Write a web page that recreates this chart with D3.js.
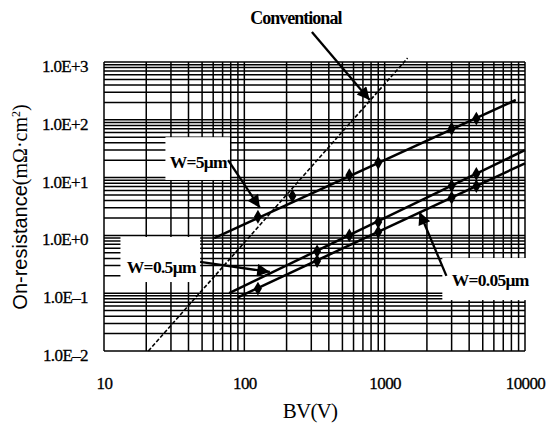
<!DOCTYPE html>
<html>
<head>
<meta charset="utf-8">
<script src="https://cdn.jsdelivr.net/npm/d3@7"></script>
<style>
  body { margin: 0; background: #fff; }
  text { font-family: "Liberation Serif", "Times New Roman", serif; fill: #000; }
</style>
</head>
<body>
<div id="chart"></div>
<script>
// axis ticks
const bvTicks = [10, 100, 1000, 10000];
const bvTickLabels = ["10", "100", "1000", "10000"];
const ronTicks = [0.01, 0.1, 1, 10, 100, 1000];
const ronTickLabels = ["1.0E\u20132", "1.0E\u20131", "1.0E+0", "1.0E+1", "1.0E+2", "1.0E+3"];

// series, [BV (V), Ron (mOhm cm2)]
const conventionalLine = [[20.7, 0.01], [1456, 1170]];
const w5Line = [[61, 0.9], [8600, 220]];
const w5Points = [[125, 2.1], [220, 4.8], [560, 11], [900, 18], [3000, 70], [4500, 105]];
const w05Line = [[78, 0.1], [10000, 30]];
const w05Points = [[330, 0.53], [560, 1.0], [900, 1.7], [3000, 7.2], [4500, 11.6]];
const w005Line = [[90, 0.085], [10000, 17.7]];
const w005Points = [[125, 0.12], [330, 0.36], [900, 1.14], [3000, 4.5], [4500, 7.1]];

const width = 550, height = 430;
const margin = {top: 62, right: 25, bottom: 79, left: 104};

let svg = d3.select('#chart').append('svg')
    .attr('width', width)
    .attr('height', height);

let x = d3.scaleLog().domain([10, 10000]).range([margin.left, width - margin.right]);
let y = d3.scaleLog().domain([0.01, 1000]).range([height - margin.bottom, margin.top]);

// grid, every 1..9 of each decade
let grid = svg.append('g').attr('stroke', '#000').attr('stroke-width', 1.5);
grid.selectAll('line.v')
    .data(x.ticks())
    .enter().append('line')
    .attr('class', 'v')
    .attr('x1', d => x(d)).attr('x2', d => x(d))
    .attr('y1', y(1000)).attr('y2', y(0.01));
grid.selectAll('line.h')
    .data(y.ticks())
    .enter().append('line')
    .attr('class', 'h')
    .attr('x1', x(10)).attr('x2', x(10000))
    .attr('y1', d => y(d)).attr('y2', d => y(d));

// tick labels
let xAxis = svg.append('g')
    .attr('transform', 'translate(0,' + (y(0.01) + 23) + ')')
    .call(d3.axisBottom(x).tickValues(bvTicks).tickFormat((d, i) => bvTickLabels[i]).tickSize(0));
xAxis.select('.domain').remove();
xAxis.selectAll('text')
    .style('font-family', '"Liberation Serif", serif')
    .style('font-size', '17px')
    .style('letter-spacing', '-0.6px')
    .attr('fill', '#000')
    .attr('stroke', '#000')
    .attr('stroke-width', 0.3);

let yAxis = svg.append('g')
    .attr('transform', 'translate(' + (x(10) - 13) + ',4)')
    .call(d3.axisLeft(y).tickValues(ronTicks).tickFormat((d, i) => ronTickLabels[i]).tickSize(0));
yAxis.select('.domain').remove();
yAxis.selectAll('text')
    .style('font-family', '"Liberation Serif", serif')
    .style('font-size', '17px')
    .style('letter-spacing', '-0.6px')
    .attr('fill', '#000')
    .attr('stroke', '#000')
    .attr('stroke-width', 0.3);

// axis titles
svg.append('text')
    .attr('x', 310).attr('y', 418)
    .attr('text-anchor', 'middle')
    .style('font-size', '21px')
    .style('letter-spacing', '-0.8px')
    .text('BV(V)');

let yTitle = svg.append('text')
    .attr('transform', 'translate(27,207) rotate(-90)')
    .attr('text-anchor', 'middle')
    .style('font-size', '20px');
yTitle.append('tspan').style('font-family', '"Liberation Sans", Arial, sans-serif').text('On-resistance');
yTitle.append('tspan').text('(m\u03A9\u00B7cm');
yTitle.append('tspan').attr('dy', -7).style('font-size', '12px').text('2');
yTitle.append('tspan').attr('dy', 7).text(')');

// label boxes (white, hide the grid behind them)
const notes = [
    {text: 'W=5\u03BCm', at: [47, 18.6], box: [27.4, 79, 9.1, 50]},
    {text: 'W=0.5\u03BCm', at: [25.6, 0.284], box: [13.1, 48.4, 0.156, 0.94]},
    {text: 'W=0.05\u03BCm', at: [5650, 0.169], box: [2576, 11600, 0.076, 0.406]}
];
notes.forEach(n => {
    svg.append('rect')
        .attr('x', x(n.box[0])).attr('y', y(n.box[3]))
        .attr('width', x(n.box[1]) - x(n.box[0]))
        .attr('height', y(n.box[2]) - y(n.box[3]))
        .attr('fill', '#fff');
    svg.append('text')
        .attr('x', x(n.at[0])).attr('y', y(n.at[1]))
        .attr('dy', '0.35em')
        .attr('text-anchor', 'middle')
        .style('font-size', '17.5px')
        .style('letter-spacing', '-0.7px')
        .style('font-weight', 'bold')
        .text(n.text);
});

// lines
let line = d3.line().x(d => x(d[0])).y(d => y(d[1]));

svg.append('path')
    .datum(conventionalLine)
    .attr('d', line)
    .attr('fill', 'none')
    .attr('stroke', '#000')
    .attr('stroke-width', 1.6)
    .attr('stroke-dasharray', '4,2');

[w5Line, w05Line, w005Line].forEach(s => {
    svg.append('path')
        .datum(s)
        .attr('d', line)
        .attr('fill', 'none')
        .attr('stroke', '#000')
        .attr('stroke-width', 2.5);
});

let diamond = d3.symbol().type(d3.symbolDiamond).size(55);
[w5Points, w05Points, w005Points].forEach(s => {
    svg.append('g').selectAll('path')
        .data(s)
        .enter().append('path')
        .attr('d', diamond)
        .attr('transform', d => 'translate(' + x(d[0]) + ',' + y(d[1]) + ')')
        .attr('fill', '#000');
});

// arrows
svg.append('defs').append('marker')
    .attr('id', 'head')
    .attr('viewBox', '0 0 10 10')
    .attr('refX', 10).attr('refY', 5)
    .attr('markerWidth', 7.5).attr('markerHeight', 5.5)
    .attr('markerUnits', 'strokeWidth')
    .attr('orient', 'auto')
    .append('path')
    .attr('d', 'M0,0 L10,5 L0,10 Z')
    .attr('fill', '#000');

const arrows = [
    [[303, 3300], [782, 220]],
    [[76.6, 20], [129, 3.0]],
    [[48.4, 0.347], [152, 0.233]],
    [[2754, 0.199], [1770, 2.54]]
];
arrows.forEach(a => {
    svg.append('line')
        .attr('x1', x(a[0][0])).attr('y1', y(a[0][1]))
        .attr('x2', x(a[1][0])).attr('y2', y(a[1][1]))
        .attr('stroke', '#000')
        .attr('stroke-width', 2.3)
        .attr('marker-end', 'url(#head)');
});

svg.append('text')
    .attr('x', x(233)).attr('y', y(5770))
    .attr('dy', '0.35em')
    .attr('text-anchor', 'middle')
    .style('font-size', '18px')
    .style('font-weight', 'bold')
    .style('letter-spacing', '-1px')
    .text('Conventional');
</script>
</body>
</html>
